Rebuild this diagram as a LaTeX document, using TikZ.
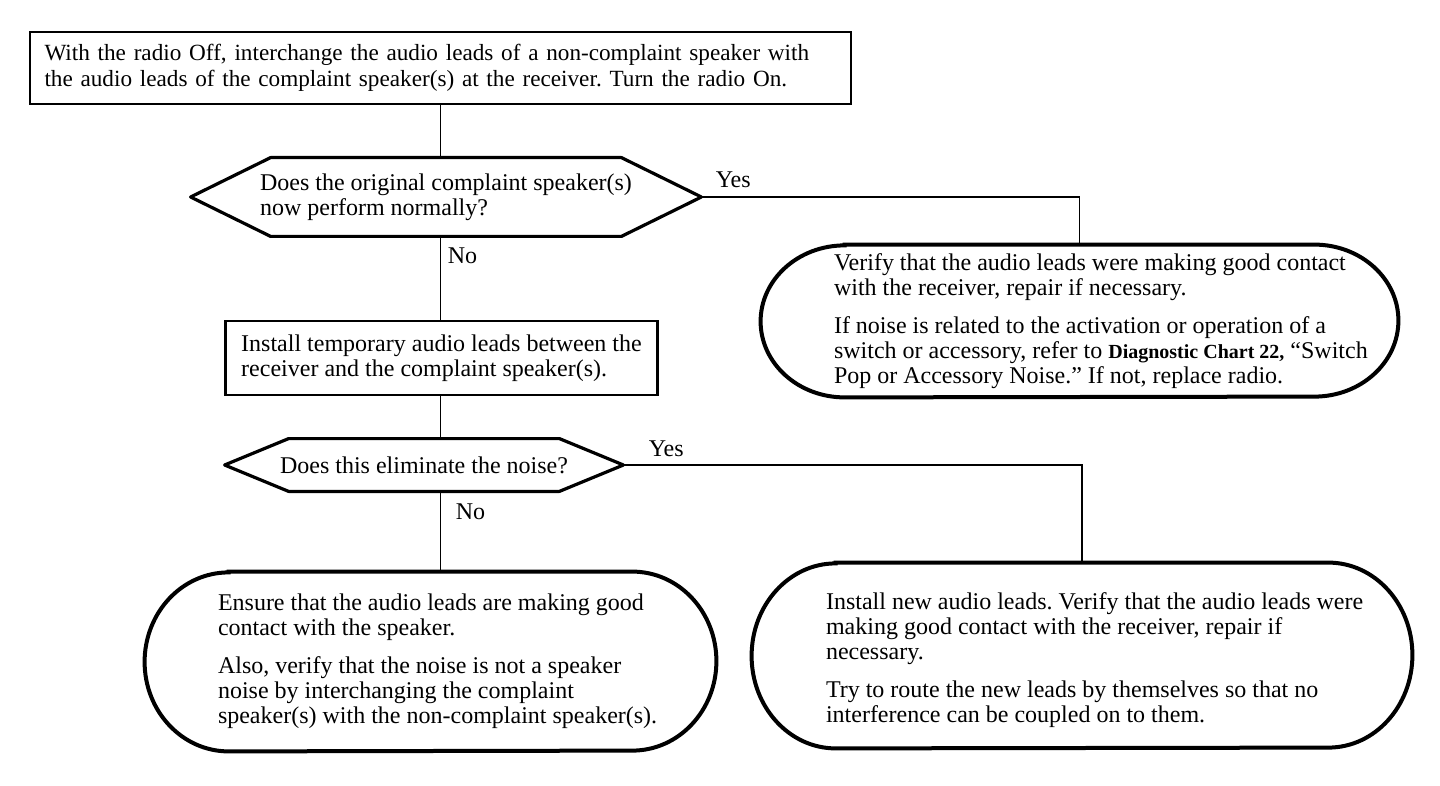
\documentclass[tikz,border=0pt]{standalone}
\usepackage{fontspec}
\setmainfont{Liberation Serif}
\usepackage{tikz}
\usetikzlibrary{calc}
\frenchspacing

% outline of a decision node: #1 node, #2 bevel
\newcommand{\drawhex}[2]{%
  \draw[hexline] ([xshift=#2]#1.north west) -- ([xshift=-#2]#1.north east) -- (#1.east)
    -- ([xshift=-#2]#1.south east) -- ([xshift=#2]#1.south west) -- (#1.west) -- cycle;}
% outline of an end node: #1 node, #2 x radius, #3 y radius
\newcommand{\drawoval}[3]{%
  \draw[ovalline] ([xshift=#2]#1.north west) -- ([xshift=-#2]#1.north east)
    arc[start angle=90, end angle=-90, x radius=#2, y radius=#3]
    -- ([xshift=#2]#1.south west)
    arc[start angle=270, end angle=90, x radius=#2, y radius=#3] -- cycle;}

\begin{document}
\begin{tikzpicture}[x=0.5pt,y=-0.5pt,
    every node/.style={font=\fontsize{12}{12.5}\selectfont},
    stepbox/.style={draw,line width=1.4pt,align=left,inner ysep=0pt},
    query/.style={align=left,inner sep=0pt},
    oval/.style={inner sep=0pt},
    ovaltext/.style={align=left,inner sep=0pt,anchor=west},
    answer/.style={anchor=base west,inner sep=0pt},
    link/.style={line width=0.9pt},
    hexline/.style={line width=1.6pt,line join=round},
    ovalline/.style={line width=2pt}]
  \useasboundingbox (0,0) rectangle (1440,786);

  \node[stepbox,font=\fontsize{11.6}{13}\selectfont,minimum width=410.5pt,minimum height=36pt,
        text width=396pt,inner xsep=7.25pt] (b1) at (440.5,68)
    {With the radio Off, interchange the audio leads of a non-complaint speaker with\\
     the audio leads of the complaint speaker(s) at the receiver. Turn the radio On.};
  \node[query,minimum width=255pt,minimum height=39pt] (d1) at (446,197)
    {Does the original complaint speaker(s)\\now perform normally?};
  \node[stepbox,minimum width=213.5pt,minimum height=37pt,inner xsep=8pt] (b2) at (441.5,358)
    {Install temporary audio leads between the\\receiver and the complaint speaker(s).};
  \node[query,minimum width=199pt,minimum height=26pt] (d2) at (424,465)
    {Does this eliminate the noise?};

  \node[oval,minimum width=318.5pt,minimum height=76pt] (e1) at (1079.5,321) {};
  \node[ovaltext] (e1text) at ([xshift=36.5pt]e1.west)
    {Verify that the audio leads were making good contact\\
     with the receiver, repair if necessary.\\[6.5pt]
     If noise is related to the activation or operation of a\\
     switch or accessory, refer to {\fontsize{10}{12.5}\selectfont\bfseries Diagnostic Chart 22,} “Switch\\
     Pop or Accessory Noise.” If not, replace radio.};
  \node[oval,minimum width=285.5pt,minimum height=89.5pt] (e3) at (430.5,661.5) {};
  \node[ovaltext] (e3text) at ([xshift=36.5pt]e3.west)
    {Ensure that the audio leads are making good\\
     contact with the speaker.\\[6.5pt]
     Also, verify that the noise is not a speaker\\
     noise by interchanging the complaint\\
     speaker(s) with the non-complaint speaker(s).};
  \node[oval,minimum width=330pt,minimum height=92.5pt] (e2) at (1082,655.5) {};
  \node[ovaltext] (e2text) at ([xshift=37pt,yshift=-2.5pt]e2.west)
    {Install new audio leads. Verify that the audio leads were\\
     making good contact with the receiver, repair if\\
     necessary.\\[6.5pt]
     Try to route the new leads by themselves so that no\\
     interference can be coupled on to them.};

  \drawhex{d1}{40pt}
  \drawhex{d2}{32pt}
  \drawoval{e1}{42pt}{38pt}
  \drawoval{e3}{42pt}{44.75pt}
  \drawoval{e2}{42pt}{46.25pt}

  \draw[link] (b1.south) -- (b1.south |- d1.north);
  \draw[link] (b1.south |- d1.south) -- (b1.south |- b2.north);
  \draw[link] (b1.south |- b2.south) -- (b1.south |- d2.north);
  \draw[link] (b1.south |- d2.south) -- (b1.south |- e3.north);
  \draw[link] (d1.east) -| (e1.north);
  \draw[link] (d2.east) -| (e2.north);

  \node[answer] (yes1) at ($(d1.east)+(14,-9)$) {Yes};
  \node[answer] (no1) at ($(b1.south |- d1.south)+(7,27)$) {No};
  \node[answer] (yes2) at ($(d2.east)+(25,-9)$) {Yes};
  \node[answer] (no2) at ($(b1.south |- d2.south)+(15,28)$) {No};
\end{tikzpicture}
\end{document}
